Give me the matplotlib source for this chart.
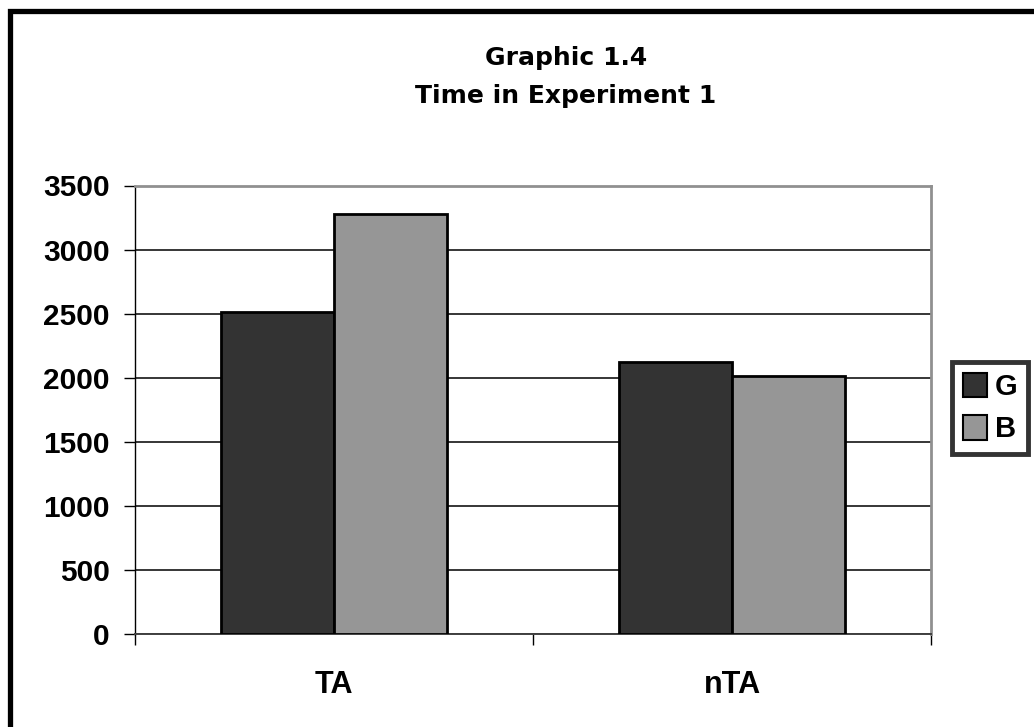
import matplotlib.pyplot as plt
import matplotlib.patches as mpatches
import numpy as np

# data
categories = ['TA', 'nTA']
series_names = ['G', 'B']
g_values = [2510, 2125]
b_values = [3280, 2010]
y_ticks = [0, 500, 1000, 1500, 2000, 2500, 3000, 3500]

dark = '#333333'
light = '#969696'

fig = plt.figure(figsize=(10.34, 7.27), dpi=100)
ax = fig.add_axes([135 / 1034, 1 - 634 / 727, (931 - 135) / 1034, (634 - 185.5) / 727])

# bars, two per category
x = np.arange(len(categories))
w = 0.285
ax.bar(x - w / 2, g_values, w, color=dark, edgecolor='black', linewidth=2, zorder=3)
ax.bar(x + w / 2, b_values, w, color=light, edgecolor='black', linewidth=2, zorder=3)

ax.set_xlim(-0.5, len(categories) - 0.5)
ax.set_ylim(0, 3500)

# y axis
ax.set_yticks(y_ticks)
ax.set_yticklabels([str(v) for v in y_ticks], fontsize=21.5, fontweight='bold',
                   family='Liberation Sans')
ax.yaxis.grid(True, color='black', linewidth=1.1, zorder=0)
ax.tick_params(axis='y', direction='out', length=8, width=1, pad=10)

# x axis: labels in the middle, tick marks between categories
ax.set_xticks(x)
ax.set_xticklabels(categories, fontsize=22, fontweight='bold', family='Liberation Sans')
ax.tick_params(axis='x', length=0, pad=26)
ax.set_xticks(np.arange(-0.5, len(categories)), minor=True)
ax.tick_params(axis='x', which='minor', direction='out', length=8, width=1)

# plot area frame
ax.spines['left'].set_color('black')
ax.spines['left'].set_linewidth(1)
ax.spines['bottom'].set_color('#404040')
ax.spines['bottom'].set_linewidth(1.4)
ax.spines['top'].set_color('#909090')
ax.spines['top'].set_linewidth(2)
ax.spines['right'].set_color('#909090')
ax.spines['right'].set_linewidth(2)

# title
fig.text(566 / 1034, 1 - 58 / 727, 'Graphic 1.4', ha='center', va='center',
         fontsize=18, fontweight='bold', family='DejaVu Sans')
fig.text(566 / 1034, 1 - 96 / 727, 'Time in Experiment 1', ha='center', va='center',
         fontsize=18, fontweight='bold', family='DejaVu Sans')

# legend
handles = [mpatches.Patch(facecolor=dark, edgecolor='black', linewidth=1.5),
           mpatches.Patch(facecolor=light, edgecolor='black', linewidth=1.5)]
leg = fig.legend(handles, series_names, loc='center', bbox_to_anchor=(990 / 1034, 1 - 408 / 727),
                 frameon=True, fancybox=False, handlelength=0.85, handleheight=0.9,
                 handletextpad=0.25, borderpad=0.35, labelspacing=0.5,
                 prop={'family': 'Liberation Sans', 'weight': 'bold', 'size': 21})
leg.get_frame().set_edgecolor('black')
leg.get_frame().set_linewidth(3.5)

# outer chart border (cut off at right and bottom like the original)
border = mpatches.Rectangle((10 / 1034, -0.05), 1.1, 1 - 10.5 / 727 + 0.05, transform=fig.transFigure,
                            fill=False, edgecolor='black', linewidth=3.8)
fig.patches.append(border)

fig.savefig('out.png', dpi=100)
